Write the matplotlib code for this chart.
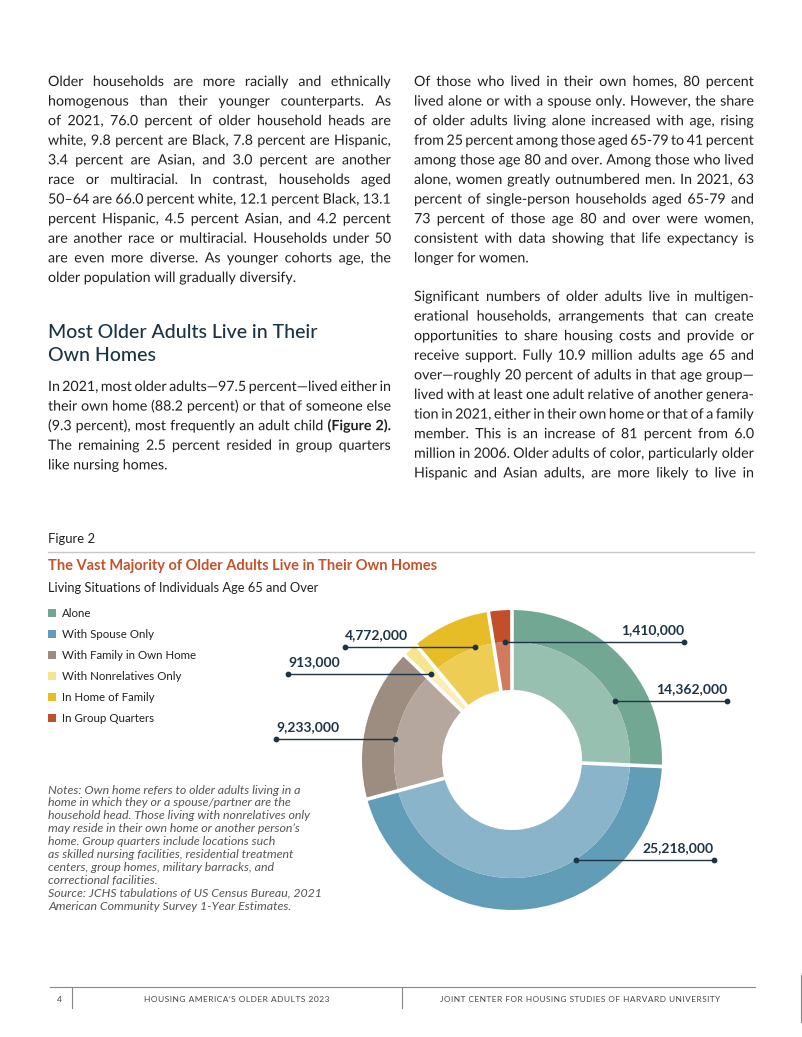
import numpy as np
import matplotlib.pyplot as plt
import matplotlib.patheffects as pe
from matplotlib.patches import Rectangle

W, H = 802, 1037
FONT = "Lato"

# ---------------- chart data ----------------
categories = ["Alone", "With Spouse Only", "With Family in Own Home",
              "With Nonrelatives Only", "In Home of Family", "In Group Quarters"]
people = [14362000, 25218000, 9233000, 913000, 4772000, 1410000]
dark = ["#72a893", "#629db8", "#9d8c80", "#f6e48e", "#e6bc27", "#c24f2a"]
light = ["#97c0b0", "#8ab4c9", "#b5a79d", "#f9edb8", "#eecd55", "#d27a5d"]

# leader lines: angle of the dot on the ring (deg) and x end (pie units)
label_angle = [30, -57.4, 169.8, 133.3, 108, 93.4]
label_end = [1.433, 1.347, -1.573, -1.493, -1.113, 1.147]

# ---------------- page text ----------------
left_p1 = [
    "Older households are more racially and ethnically",
    "homogenous than their younger counterparts. As",
    "of 2021, 76.0 percent of older household heads are",
    "white, 9.8 percent are Black, 7.8 percent are Hispanic,",
    "3.4 percent are Asian, and 3.0 percent are another",
    "race or multiracial. In contrast, households aged",
    "50–64 are 66.0 percent white, 12.1 percent Black, 13.1",
    "percent Hispanic, 4.5 percent Asian, and 4.2 percent",
    "are another race or multiracial. Households under 50",
    "are even more diverse. As younger cohorts age, the",
    "older population will gradually diversify.",
]
heading = ["Most Older Adults Live in Their", "Own Homes"]
left_p2 = [
    "In 2021, most older adults—97.5 percent—lived either in",
    "their own home (88.2 percent) or that of someone else",
    "(9.3 percent), most frequently an adult child *(Figure *2).",
    "The remaining 2.5 percent resided in group quarters",
    "like nursing homes.",
]
right_p1 = [
    "Of those who lived in their own homes, 80 percent",
    "lived alone or with a spouse only. However, the share",
    "of older adults living alone increased with age, rising",
    "from 25 percent among those aged 65-79 to 41 percent",
    "among those age 80 and over. Among those who lived",
    "alone, women greatly outnumbered men. In 2021, 63",
    "percent of single-person households aged 65-79 and",
    "73 percent of those age 80 and over were women,",
    "consistent with data showing that life expectancy is",
    "longer for women.",
]
right_p2 = [
    "Significant numbers of older adults live in multigen-",
    "erational households, arrangements that can create",
    "opportunities to share housing costs and provide or",
    "receive support. Fully 10.9 million adults age 65 and",
    "over—roughly 20 percent of adults in that age group—",
    "lived with at least one adult relative of another genera-",
    "tion in 2021, either in their own home or that of a family",
    "member. This is an increase of 81 percent from 6.0",
    "million in 2006. Older adults of color, particularly older",
    "Hispanic and Asian adults, are more likely to live in",
]
notes = [
    "Notes: Own home refers to older adults living in a",
    "home in which they or a spouse/partner are the",
    "household head. Those living with nonrelatives only",
    "may reside in their own home or another person’s",
    "home. Group quarters include locations such",
    "as skilled nursing facilities, residential treatment",
    "centers, group homes, military barracks, and",
    "correctional facilities.",
    "Source: JCHS tabulations of US Census Bureau, 2021",
    "American Community Survey 1-Year Estimates.",
]

TEXT = "#231f20"
NAVY = "#1c3344"
ORANGE = "#c4532b"
GREY = "#555555"
PATH = [pe.Normal()]   # draw words as paths so baselines don't jitter

fig = plt.figure(figsize=(W / 100, H / 100), dpi=100)
ax = fig.add_axes([0, 0, 1, 1])
ax.set_xlim(0, W)
ax.set_ylim(H, 0)
ax.axis("off")
r = fig.canvas.get_renderer()


def width(s, **kw):
    kw.setdefault("family", FONT)
    t = ax.text(0, 0, s, **kw)
    w = t.get_window_extent(r).width
    t.remove()
    return w


def fit(s, w, **kw):
    return 10 * w / width(s, fontsize=10, **kw)


def justify(lines, x0, x1, y0, dy, size, last_full=False):
    for i, line in enumerate(lines):
        y = y0 + i * dy
        if i == len(lines) - 1 and not last_full:
            ax.text(x0, y, line, family=FONT, fontsize=size, color=TEXT, va="baseline",
                    path_effects=PATH)
            continue
        words = line.split(" ")
        bold = [w.startswith("*") for w in words]
        words = [w.lstrip("*") for w in words]
        ws = [width(w, fontsize=size, fontweight="bold" if b else "normal")
              for w, b in zip(words, bold)]
        gap = (x1 - x0 - sum(ws)) / (len(words) - 1)
        x = x0
        for w, b, wd in zip(words, bold, ws):
            ax.text(x, y, w, family=FONT, fontsize=size, color=TEXT, va="baseline",
                    fontweight="bold" if b else "normal", path_effects=PATH)
            x += wd + gap


# body font size: tightest justified line ~ column width
body = left_p1[:-1] + left_p2[:-1] + right_p1[:-1] + right_p2
nat = max(width(l.replace("*", ""), fontsize=10) for l in body)
BODY = 10 * 342 * 1.03 / nat

justify(left_p1, 48, 391, 86, 19.6, BODY)
justify(left_p2, 48, 391, 391, 19.6, BODY)
justify(right_p1, 414, 754, 86, 19.6, BODY)
justify(right_p2, 414, 754, 301, 19.6, BODY, last_full=True)

hs = fit(heading[0], 270, fontweight="medium")
ax.text(48, 337.5, heading[0], family=FONT, fontsize=hs, fontweight="medium", color=NAVY, va="baseline")
ax.text(48, 361, heading[1], family=FONT, fontsize=hs, fontweight="medium", color=NAVY, va="baseline")

# ---------------- figure block ----------------
ax.text(48, 543, "Figure 2", family=FONT, fontsize=fit("Figure 2", 47), color=TEXT, va="baseline")
ax.plot([48, 754], [552, 552], color="#c8c8c8", lw=1)
title = "The Vast Majority of Older Adults Live in Their Own Homes"
ax.text(48, 570, title, family=FONT, fontweight="bold", color=ORANGE, va="baseline",
        fontsize=fit(title, 391, fontweight="bold"))
sub = "Living Situations of Individuals Age 65 and Over"
ax.text(48, 592, sub, family=FONT, color=TEXT, va="baseline", fontsize=fit(sub, 272))

ls = fit("With Family in Own Home", 134)
for i, (c, col) in enumerate(zip(categories, dark)):
    y = 617.3 + 21 * i
    ax.add_patch(Rectangle((48, y - 8), 8, 8, color=col, lw=0))
    ax.text(62, y, c, family=FONT, fontsize=ls, color=TEXT, va="baseline")

ns = fit(notes[2], 265, style="italic")
for i, n in enumerate(notes):
    ax.text(48, 793.5 + 12.9 * i, n, family=FONT, style="italic", fontsize=ns,
            color=GREY, va="baseline")

# ---------------- footer ----------------
FOOT = "#444444"
ax.plot([50, 755], [987, 987], color="#888888", lw=0.8)
for xv in [72, 402]:
    ax.plot([xv, xv], [987, 1008], color="#888888", lw=0.8)
ax.plot([801, 801], [975, 1022], color="#888888", lw=0.8)
f1 = "\u200a".join("HOUSING AMERICA’S OLDER ADULTS 2023")
f2 = "\u200a".join("JOINT CENTER FOR HOUSING STUDIES OF HARVARD UNIVERSITY")
ffam = [FONT, "DejaVu Sans"]
ax.text(59, 1001.5, "4", family=ffam, fontsize=6, color=FOOT, ha="center", va="baseline")
ax.text(144, 1001.5, f1, family=ffam, fontsize=fit(f1, 185, family=ffam), color=FOOT, va="baseline")
ax.text(440, 1001.5, f2, family=ffam, fontsize=fit(f2, 279, family=ffam), color=FOOT, va="baseline")

# ---------------- donut ----------------
R_OUT, R_MID, R_IN = 1.0, 0.787, 0.467
PX = 150.0
cx, cy = 512, 760
half = 170
axp = fig.add_axes([(cx - half) / W, (H - cy - half) / H, 2 * half / W, 2 * half / H])
axp.pie(people, radius=R_OUT, colors=dark, startangle=90, counterclock=False,
        wedgeprops=dict(width=R_OUT - R_MID, linewidth=0))
axp.pie(people, radius=R_MID, colors=light, startangle=90, counterclock=False,
        wedgeprops=dict(width=R_MID - R_IN, linewidth=0))
axp.set_xlim(-half / PX, half / PX)
axp.set_ylim(-half / PX, half / PX)
axp.set_aspect("equal")
axp.axis("off")

bounds = 90 - 360 * np.cumsum([0] + people[:-1]) / sum(people)
for b in bounds:
    t = np.radians(b)
    axp.plot([0.44 * np.cos(t), 1.03 * np.cos(t)], [0.44 * np.sin(t), 1.03 * np.sin(t)],
             color="white", lw=2.6, solid_capstyle="butt")

for val, ang, xe in zip(people, label_angle, label_end):
    t = np.radians(ang)
    x0, y0 = 0.79 * np.cos(t), 0.79 * np.sin(t)
    axp.plot([x0, xe], [y0, y0], color=NAVY, lw=1, clip_on=False)
    axp.scatter([x0, xe], [y0, y0], s=10, color=NAVY, clip_on=False, zorder=5)
    axp.text(xe, y0 + 0.04, f"{val:,}", family=FONT, fontsize=10, fontweight="bold",
             color=NAVY, ha="right" if xe > 0 else "left", va="bottom", clip_on=False)

fig.savefig("out.png", dpi=100)
